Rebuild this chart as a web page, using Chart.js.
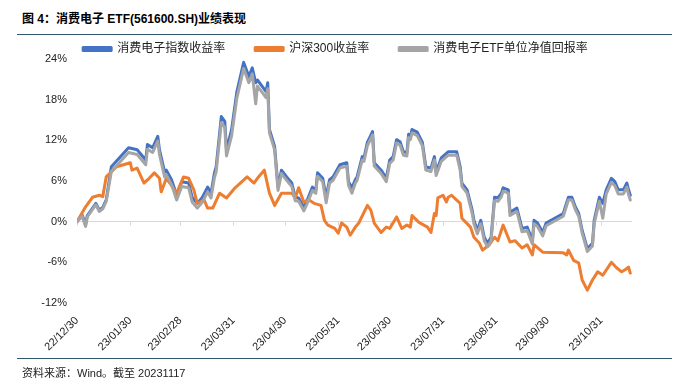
<!DOCTYPE html>
<html>
<head>
<meta charset="utf-8">
<script src="https://cdn.jsdelivr.net/npm/chart.js@4.4.1/dist/chart.umd.min.js"></script>
<style>
  body { margin: 0; background: #fff; font-family: "Liberation Sans", "Noto Sans CJK SC", sans-serif; }
  #wrap { position: relative; width: 685px; height: 390px; }
  #title { position: absolute; left: 22px; top: 9px; font-size: 12px; font-weight: bold; color: #000; white-space: nowrap; }
  .rule { position: absolute; left: 17px; width: 655px; height: 0; border-top: 1.5px solid #31596b; }
  #source { position: absolute; left: 22px; top: 364px; font-size: 11px; color: #222; white-space: nowrap; }
  canvas { position: absolute; left: 0; top: 0; }
</style>
</head>
<body>
<div id="wrap">
  <div id="title">图 4：消费电子 ETF(561600.SH)业绩表现</div>
  <div class="rule" style="top:34px"></div>
  <canvas id="chart" width="685" height="390"></canvas>
  <div class="rule" style="top:358px"></div>
  <div id="source">资料来源：Wind。截至 20231117</div>
</div>
<script>
// x 轴：距 2022/12/30 的自然日
const tickDays = [0, 31, 60, 91, 121, 152, 182, 213, 244, 274, 305];
const tickLabels = ['22/12/30', '23/01/30', '23/02/28', '23/03/31', '23/04/30', '23/05/31', '23/06/30', '23/07/31', '23/08/31', '23/09/30', '23/10/31'];

// 消费电子指数 / ETF 净值 共用日期
const idxDays = [0, 3, 5, 6, 11, 13, 15, 17, 20, 30, 35, 40, 41, 44, 47, 48, 51, 52, 55, 58,
  61, 65, 67, 70, 73, 76, 78, 80, 81, 84, 86, 87, 90, 93, 97, 100, 102, 104, 105, 108,
  110, 111, 112, 115, 117, 119, 122, 125, 127, 129, 132, 134, 137, 139, 140, 143, 145, 147, 149, 153,
  157, 158, 160, 162, 163, 166, 167, 169, 172, 173, 177, 180, 182, 184, 186, 188, 190, 192, 193, 194,
  195, 198, 201, 203, 206, 208, 209, 212, 216, 218, 221, 223, 224, 227, 230, 231, 233, 235, 237, 239,
  241, 243, 245, 247, 248, 251, 252, 256, 259, 262, 265, 266, 268, 271, 273, 283, 286, 288, 290, 292,
  294, 297, 300, 301, 304, 306, 308, 311, 313, 315, 318, 320, 321, 322];
const indexRet = [0, 1.0, -0.4, 0.9, 2.7, 1.7, 2.1, 3.2, 8.1, 10.9, 10.6, 9.1, 11.4, 10.9, 12.6, 10.6, 7.3, 7.6, 6.2, 3.9,
  5.9, 5.7, 3.6, 2.7, 3.6, 5.1, 4.2, 7.2, 8.1, 15.5, 14.8, 10.6, 13.6, 19.1, 23.5, 21.4, 22.7, 20.5, 20.9, 19.9,
  19.2, 20.5, 13.6, 11.1, 5.1, 7.6, 6.6, 5.7, 3.6, 3.5, 2.1, 3.2, 5.1, 4.7, 7.2, 6.4, 3.6, 6.2, 6.6, 8.4,
  8.7, 5.9, 5.0, 6.2, 6.6, 9.6, 9.4, 11.7, 13.3, 8.7, 7.6, 6.4, 9.1, 9.6, 12.1, 11.8, 10.3, 10.2, 12.9, 12.6,
  13.6, 13.2, 11.7, 8.1, 7.9, 9.6, 7.3, 9.4, 10.3, 10.3, 10.3, 8.1, 5.7, 4.7, 1.7, 0.2, -1.3, 0.2, -2.3, -3.2,
  -2.3, 3.6, 3.5, 4.2, 5.0, 4.7, 1.4, 2.0, -1.0, -0.8, -2.8, 0.2, -0.2, -1.6, -0.2, 1.2, 3.6, 3.6, 2.2, 1.2,
  -1.3, -4.0, -3.2, 0.2, 3.6, 2.7, 4.7, 6.4, 5.9, 4.7, 4.7, 5.7, 4.7, 3.9];
const etfRet = [0, 0.8, -0.7, 0.7, 2.5, 1.5, 1.9, 3.0, 7.4, 10.2, 9.9, 8.4, 10.7, 10.2, 11.9, 9.9, 6.6, 6.9, 5.5, 3.2,
  5.2, 5.0, 2.9, 2.0, 2.9, 4.4, 3.5, 6.5, 7.4, 14.6, 13.9, 9.7, 12.7, 18.2, 22.6, 20.5, 21.8, 17.4, 20.0, 19.0,
  18.3, 19.6, 13.1, 10.6, 4.6, 7.1, 6.1, 5.2, 3.1, 3.0, 1.6, 2.7, 4.6, 4.2, 6.7, 5.9, 2.8, 5.7, 6.1, 7.9,
  8.2, 5.4, 4.2, 5.7, 6.1, 9.1, 8.9, 11.2, 12.8, 8.2, 7.1, 5.9, 8.6, 9.1, 11.6, 11.3, 9.8, 9.7, 12.4, 12.1,
  13.1, 12.7, 11.2, 7.6, 7.4, 9.1, 6.8, 8.9, 9.8, 9.8, 9.8, 7.6, 5.2, 4.2, 1.2, -0.3, -1.8, -0.3, -2.8, -3.7,
  -2.8, 3.1, 3.0, 3.7, 4.5, 4.2, 0.9, 1.5, -1.5, -1.3, -3.3, -0.3, -0.7, -2.1, -0.6, 0.8, 3.2, 3.2, 1.8, 0.8,
  -1.7, -4.4, -3.6, -0.3, 3.0, 0.5, 4.1, 5.8, 5.3, 4.1, 4.1, 5.1, 4.0, 3.2];

// 沪深300
const hsDays = [0, 5, 9, 13, 15, 17, 23, 31, 32, 35, 39, 42, 45, 48, 49, 52, 54, 58, 62, 65,
  68, 70, 74, 76, 79, 83, 87, 92, 96, 99, 103, 105, 109, 112, 115, 119, 125, 127, 129, 132,
  135, 138, 142, 144, 146, 150, 152, 154, 157, 159, 162, 164, 169, 171, 173, 177, 180, 182, 186, 189,
  192, 194, 195, 199, 204, 206, 208, 209, 210, 213, 215, 216, 218, 223, 224, 229, 231, 234, 236, 240,
  243, 245, 248, 252, 255, 259, 262, 265, 266, 271, 283, 285, 286, 289, 292, 294, 297, 300, 303, 306,
  311, 314, 317, 319, 321, 322];
const hs300Ret = [0, 2.2, 3.6, 3.9, 3.7, 6.6, 8.1, 8.7, 7.6, 7.9, 5.7, 6.4, 7.2, 6.4, 4.4, 6.4, 5.7, 4.2, 6.6, 6.4,
  4.7, 2.7, 3.2, 2.0, 2.0, 4.2, 3.5, 5.0, 5.9, 6.6, 5.7, 6.4, 7.6, 4.2, 2.4, 4.2, 4.2, 3.5, 5.0, 2.9,
  3.2, 2.7, 2.4, 0.2, -0.5, -1.0, -1.7, -0.2, -0.8, -2.0, -0.8, -0.2, 2.4, 1.7, -0.2, -1.6, -0.8, -1.0, 0.7, -1.0,
  -0.5, -0.8, 0.9, -0.1, -0.8, -1.6, 1.2, 0.9, 3.5, 3.9, 2.9, 3.6, 3.9, 2.7, 0.5, -0.8, -2.3, -3.1, -4.2, -3.4,
  -2.3, -2.8, -0.5, -3.0, -2.8, -3.9, -3.4, -4.9, -3.4, -4.5, -4.6, -4.9, -4.2, -5.7, -6.1, -8.6, -10.1, -8.6, -7.4, -7.9,
  -6.0, -6.8, -7.4, -7.1, -6.7, -7.6];

const yTicks = [-12, -6, 0, 6, 12, 18, 24];

const font = '"Liberation Sans", "Noto Sans CJK SC", sans-serif';
const toPts = (xs, ys) => xs.map((d, i) => ({ x: d, y: ys[i] }));

// 零轴上的小刻度
const zeroTicks = {
  id: 'zeroTicks',
  beforeDatasetsDraw(chart) {
    const x = chart.scales.x, y = chart.scales.y;
    const y0 = y.getPixelForValue(0);
    const c = chart.ctx;
    c.save();
    c.strokeStyle = '#d9d9d9';
    c.lineWidth = 1;
    tickDays.forEach(d => {
      const px = Math.round(x.getPixelForValue(d)) + 0.5;
      c.beginPath();
      c.moveTo(px, y0);
      c.lineTo(px, y0 + 4);
      c.stroke();
    });
    c.restore();
  }
};

// 图例占位高度收紧一点，让绘图区顶端和原图对齐
const legendFit = {
  id: 'legendFit',
  beforeLayout(chart) {
    const lg = chart.legend;
    if (lg && !lg._fitPatched) {
      const orig = lg.fit.bind(lg);
      lg.fit = function() { orig(); this.height -= 6; };
      lg._fitPatched = true;
    }
  }
};

new Chart(document.getElementById('chart'), {
  type: 'line',
  data: {
    datasets: [
      { label: '消费电子指数收益率', data: toPts(idxDays, indexRet), borderColor: '#4472c4', backgroundColor: '#4472c4', order: 3 },
      { label: '沪深300收益率', data: toPts(hsDays, hs300Ret), borderColor: '#ed7d31', backgroundColor: '#ed7d31', order: 2 },
      { label: '消费电子ETF单位净值回报率', data: toPts(idxDays, etfRet), borderColor: '#a5a5a5', backgroundColor: '#a5a5a5', order: 1 }
    ]
  },
  options: {
    responsive: false,
    animation: false,
    devicePixelRatio: 1,
    elements: {
      line: { borderWidth: 3, tension: 0, borderJoinStyle: 'round', borderCapStyle: 'round' },
      point: { radius: 0 }
    },
    layout: { padding: { top: 13, right: 14, bottom: 35, left: 0 } },
    plugins: {
      legend: {
        position: 'top',
        labels: {
          font: { family: font, size: 12 },
          color: '#222',
          boxWidth: 28,
          boxHeight: 3,
          padding: 30,
          sort: (a, b) => a.datasetIndex - b.datasetIndex
        }
      },
      tooltip: { enabled: false }
    },
    scales: {
      x: {
        type: 'linear',
        min: 0,
        max: 323,
        afterBuildTicks: s => { s.ticks = tickDays.map(v => ({ value: v })); },
        ticks: {
          autoSkip: false,
          minRotation: 45,
          maxRotation: 45,
          font: { family: font, size: 11 },
          color: '#222',
          callback: v => tickLabels[tickDays.indexOf(v)]
        },
        grid: { display: false },
        border: { display: false },
        afterFit: s => { s.height = 52; }
      },
      y: {
        min: -12,
        max: 24,
        afterBuildTicks: s => { s.ticks = yTicks.map(v => ({ value: v })); },
        ticks: {
          font: { family: font, size: 11 },
          color: '#222',
          padding: 10,
          callback: v => v + '%'
        },
        grid: {
          drawTicks: false,
          color: c => c.tick && c.tick.value === 0 ? '#d9d9d9' : 'rgba(0,0,0,0)'
        },
        border: { display: false },
        afterFit: s => { s.width = 77; }
      },
      // 右侧留白
      yRight: {
        position: 'right',
        ticks: { display: false },
        grid: { display: false },
        border: { display: false },
        afterFit: s => { s.width = 39; }
      }
    }
  },
  plugins: [zeroTicks, legendFit]
});
</script>
</body>
</html>
